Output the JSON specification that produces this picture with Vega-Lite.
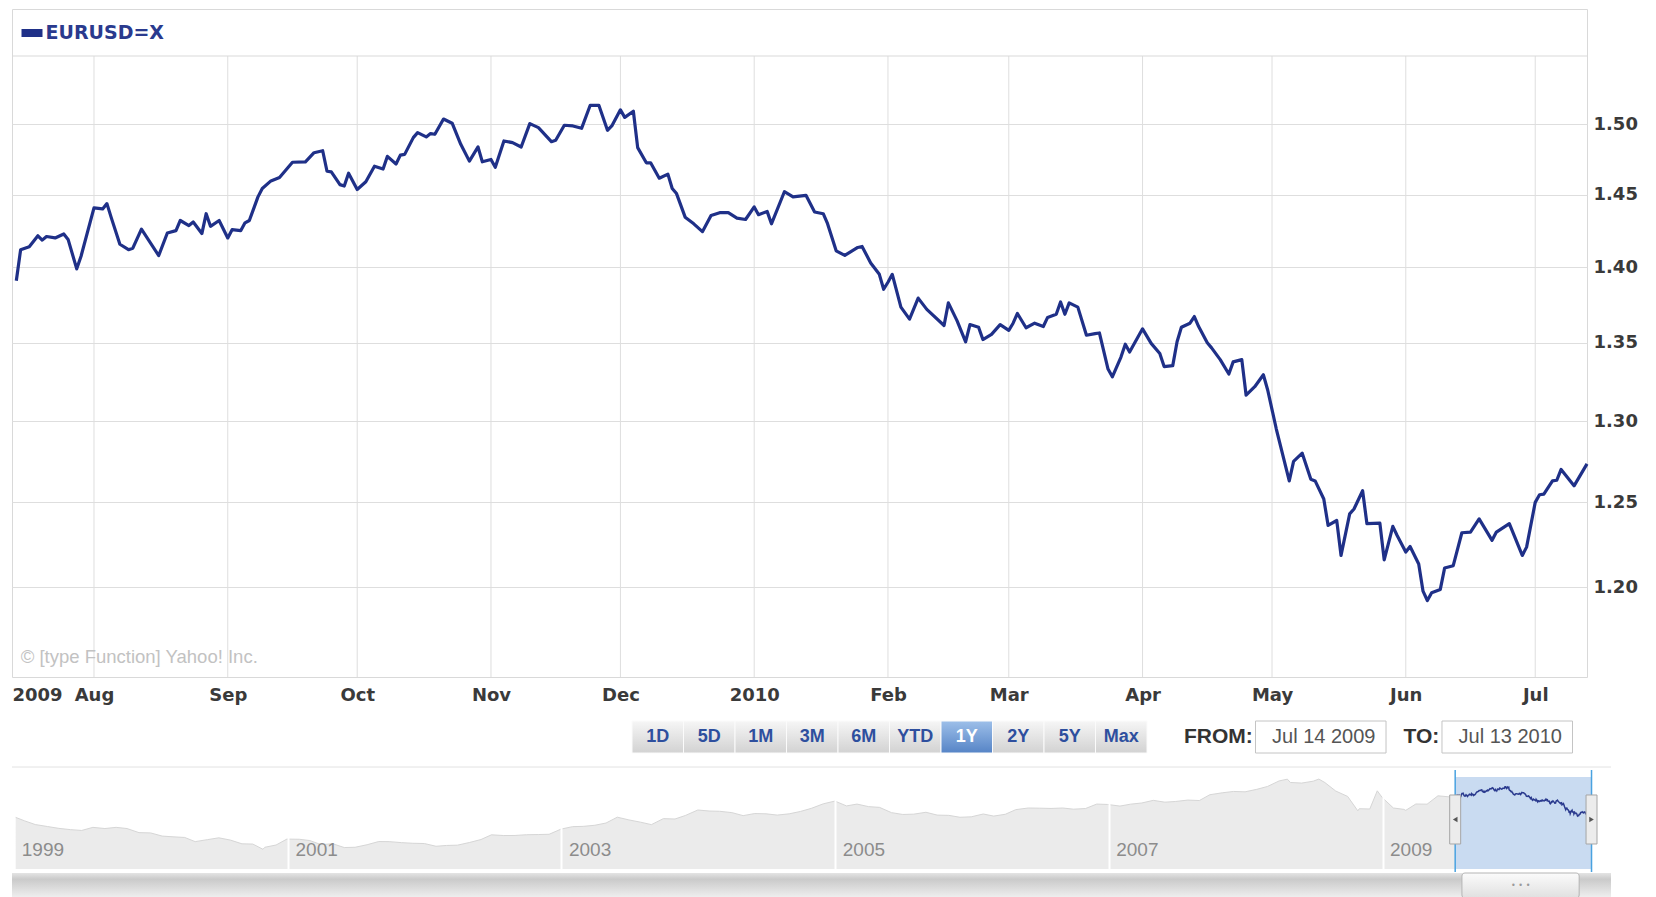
{
  "$schema": "https://vega.github.io/schema/vega-lite/v6.json",
  "padding": {"left": 11, "top": 8, "right": 0, "bottom": 0},
  "background": "white",
  "bounds": "flush",
  "spacing": 44,
  "config": {
    "view": {"stroke": null},
    "font": "DejaVu Sans",
    "axis": {"domain": false, "ticks": false, "title": null}
  },
  "datasets": {
    "main": [
      {"date": "2009-07-14", "v": 1.391}, {"date": "2009-07-15", "v": 1.412}, {"date": "2009-07-17", "v": 1.414}, {"date": "2009-07-19", "v": 1.4215},
      {"date": "2009-07-20", "v": 1.4185}, {"date": "2009-07-21", "v": 1.421}, {"date": "2009-07-23", "v": 1.42}, {"date": "2009-07-25", "v": 1.4227},
      {"date": "2009-07-26", "v": 1.419}, {"date": "2009-07-28", "v": 1.399}, {"date": "2009-07-29", "v": 1.4075}, {"date": "2009-08-01", "v": 1.4407},
      {"date": "2009-08-03", "v": 1.44}, {"date": "2009-08-04", "v": 1.4437}, {"date": "2009-08-05", "v": 1.434}, {"date": "2009-08-07", "v": 1.4157},
      {"date": "2009-08-09", "v": 1.412}, {"date": "2009-08-10", "v": 1.413}, {"date": "2009-08-12", "v": 1.426}, {"date": "2009-08-16", "v": 1.408},
      {"date": "2009-08-18", "v": 1.4234}, {"date": "2009-08-20", "v": 1.425}, {"date": "2009-08-21", "v": 1.432}, {"date": "2009-08-23", "v": 1.4285},
      {"date": "2009-08-24", "v": 1.431}, {"date": "2009-08-26", "v": 1.423}, {"date": "2009-08-27", "v": 1.4367}, {"date": "2009-08-28", "v": 1.428},
      {"date": "2009-08-30", "v": 1.432}, {"date": "2009-09-01", "v": 1.42}, {"date": "2009-09-02", "v": 1.4257}, {"date": "2009-09-04", "v": 1.425},
      {"date": "2009-09-05", "v": 1.4304}, {"date": "2009-09-06", "v": 1.432}, {"date": "2009-09-08", "v": 1.4484}, {"date": "2009-09-09", "v": 1.4543},
      {"date": "2009-09-11", "v": 1.4596}, {"date": "2009-09-13", "v": 1.462}, {"date": "2009-09-16", "v": 1.4728}, {"date": "2009-09-19", "v": 1.473},
      {"date": "2009-09-21", "v": 1.4796}, {"date": "2009-09-23", "v": 1.481}, {"date": "2009-09-24", "v": 1.4664}, {"date": "2009-09-25", "v": 1.466},
      {"date": "2009-09-27", "v": 1.457}, {"date": "2009-09-28", "v": 1.456}, {"date": "2009-09-29", "v": 1.465}, {"date": "2009-10-01", "v": 1.4536},
      {"date": "2009-10-03", "v": 1.459}, {"date": "2009-10-05", "v": 1.47}, {"date": "2009-10-07", "v": 1.468}, {"date": "2009-10-08", "v": 1.477},
      {"date": "2009-10-10", "v": 1.4716}, {"date": "2009-10-11", "v": 1.4779}, {"date": "2009-10-12", "v": 1.4784}, {"date": "2009-10-14", "v": 1.4904},
      {"date": "2009-10-15", "v": 1.494}, {"date": "2009-10-17", "v": 1.4909}, {"date": "2009-10-18", "v": 1.4933}, {"date": "2009-10-19", "v": 1.4928},
      {"date": "2009-10-21", "v": 1.5038}, {"date": "2009-10-23", "v": 1.5008}, {"date": "2009-10-25", "v": 1.4856}, {"date": "2009-10-27", "v": 1.4736},
      {"date": "2009-10-29", "v": 1.4837}, {"date": "2009-10-30", "v": 1.4731}, {"date": "2009-11-01", "v": 1.4748}, {"date": "2009-11-02", "v": 1.4692},
      {"date": "2009-11-04", "v": 1.488}, {"date": "2009-11-06", "v": 1.4868}, {"date": "2009-11-08", "v": 1.4837}, {"date": "2009-11-10", "v": 1.5005},
      {"date": "2009-11-12", "v": 1.4976}, {"date": "2009-11-15", "v": 1.4875}, {"date": "2009-11-16", "v": 1.4885}, {"date": "2009-11-18", "v": 1.4993},
      {"date": "2009-11-20", "v": 1.4988}, {"date": "2009-11-22", "v": 1.4971}, {"date": "2009-11-24", "v": 1.5138}, {"date": "2009-11-26", "v": 1.5138},
      {"date": "2009-11-28", "v": 1.4957}, {"date": "2009-11-29", "v": 1.4988}, {"date": "2009-12-01", "v": 1.5105}, {"date": "2009-12-02", "v": 1.505},
      {"date": "2009-12-04", "v": 1.5095}, {"date": "2009-12-05", "v": 1.4832}, {"date": "2009-12-07", "v": 1.4724}, {"date": "2009-12-08", "v": 1.4724},
      {"date": "2009-12-10", "v": 1.4615}, {"date": "2009-12-12", "v": 1.4644}, {"date": "2009-12-13", "v": 1.4543}, {"date": "2009-12-14", "v": 1.4507},
      {"date": "2009-12-16", "v": 1.4343}, {"date": "2009-12-18", "v": 1.4297}, {"date": "2009-12-20", "v": 1.4243}, {"date": "2009-12-22", "v": 1.4355},
      {"date": "2009-12-24", "v": 1.4374}, {"date": "2009-12-26", "v": 1.4374}, {"date": "2009-12-28", "v": 1.4336}, {"date": "2009-12-30", "v": 1.4327},
      {"date": "2010-01-01", "v": 1.4414}, {"date": "2010-01-02", "v": 1.436}, {"date": "2010-01-04", "v": 1.4383}, {"date": "2010-01-05", "v": 1.4297},
      {"date": "2010-01-08", "v": 1.452}, {"date": "2010-01-10", "v": 1.4484}, {"date": "2010-01-13", "v": 1.4495}, {"date": "2010-01-15", "v": 1.4379},
      {"date": "2010-01-17", "v": 1.4367}, {"date": "2010-01-18", "v": 1.4298}, {"date": "2010-01-20", "v": 1.4112}, {"date": "2010-01-22", "v": 1.4081},
      {"date": "2010-01-25", "v": 1.4135}, {"date": "2010-01-26", "v": 1.4142}, {"date": "2010-01-28", "v": 1.403}, {"date": "2010-01-30", "v": 1.3953},
      {"date": "2010-01-31", "v": 1.3853}, {"date": "2010-02-01", "v": 1.39}, {"date": "2010-02-02", "v": 1.3953}, {"date": "2010-02-04", "v": 1.3734},
      {"date": "2010-02-06", "v": 1.3655}, {"date": "2010-02-08", "v": 1.3794}, {"date": "2010-02-10", "v": 1.3719}, {"date": "2010-02-14", "v": 1.3613},
      {"date": "2010-02-15", "v": 1.3762}, {"date": "2010-02-17", "v": 1.3645}, {"date": "2010-02-19", "v": 1.3506}, {"date": "2010-02-20", "v": 1.3619},
      {"date": "2010-02-22", "v": 1.3602}, {"date": "2010-02-23", "v": 1.3521}, {"date": "2010-02-25", "v": 1.3555}, {"date": "2010-02-27", "v": 1.3619},
      {"date": "2010-03-01", "v": 1.3581}, {"date": "2010-03-02", "v": 1.3628}, {"date": "2010-03-03", "v": 1.3692}, {"date": "2010-03-05", "v": 1.3598},
      {"date": "2010-03-07", "v": 1.3628}, {"date": "2010-03-09", "v": 1.3606}, {"date": "2010-03-10", "v": 1.3666}, {"date": "2010-03-12", "v": 1.3687},
      {"date": "2010-03-13", "v": 1.3768}, {"date": "2010-03-14", "v": 1.3687}, {"date": "2010-03-15", "v": 1.3762}, {"date": "2010-03-17", "v": 1.3734},
      {"date": "2010-03-19", "v": 1.3549}, {"date": "2010-03-21", "v": 1.356}, {"date": "2010-03-22", "v": 1.3564}, {"date": "2010-03-24", "v": 1.333},
      {"date": "2010-03-25", "v": 1.328}, {"date": "2010-03-27", "v": 1.3407}, {"date": "2010-03-28", "v": 1.3491}, {"date": "2010-03-29", "v": 1.344},
      {"date": "2010-04-01", "v": 1.3591}, {"date": "2010-04-03", "v": 1.3496}, {"date": "2010-04-05", "v": 1.343}, {"date": "2010-04-06", "v": 1.3346},
      {"date": "2010-04-08", "v": 1.3352}, {"date": "2010-04-09", "v": 1.3507}, {"date": "2010-04-10", "v": 1.3601}, {"date": "2010-04-12", "v": 1.3628},
      {"date": "2010-04-13", "v": 1.3672}, {"date": "2010-04-14", "v": 1.3606}, {"date": "2010-04-16", "v": 1.35}, {"date": "2010-04-17", "v": 1.3467},
      {"date": "2010-04-19", "v": 1.3391}, {"date": "2010-04-21", "v": 1.3298}, {"date": "2010-04-22", "v": 1.3376}, {"date": "2010-04-24", "v": 1.3391},
      {"date": "2010-04-25", "v": 1.3163}, {"date": "2010-04-27", "v": 1.3217}, {"date": "2010-04-29", "v": 1.3293}, {"date": "2010-04-30", "v": 1.3196},
      {"date": "2010-05-02", "v": 1.295}, {"date": "2010-05-05", "v": 1.263}, {"date": "2010-05-06", "v": 1.275}, {"date": "2010-05-08", "v": 1.28},
      {"date": "2010-05-10", "v": 1.264}, {"date": "2010-05-11", "v": 1.263}, {"date": "2010-05-13", "v": 1.252}, {"date": "2010-05-14", "v": 1.2362},
      {"date": "2010-05-16", "v": 1.2391}, {"date": "2010-05-17", "v": 1.2184}, {"date": "2010-05-19", "v": 1.2431}, {"date": "2010-05-20", "v": 1.246},
      {"date": "2010-05-22", "v": 1.257}, {"date": "2010-05-23", "v": 1.2372}, {"date": "2010-05-26", "v": 1.2375}, {"date": "2010-05-27", "v": 1.2158},
      {"date": "2010-05-29", "v": 1.2356}, {"date": "2010-05-30", "v": 1.2302}, {"date": "2010-06-01", "v": 1.2204}, {"date": "2010-06-02", "v": 1.2237},
      {"date": "2010-06-04", "v": 1.2134}, {"date": "2010-06-05", "v": 1.1976}, {"date": "2010-06-06", "v": 1.1922}, {"date": "2010-06-07", "v": 1.1967},
      {"date": "2010-06-09", "v": 1.1986}, {"date": "2010-06-10", "v": 1.211}, {"date": "2010-06-12", "v": 1.2124}, {"date": "2010-06-14", "v": 1.2318},
      {"date": "2010-06-16", "v": 1.2322}, {"date": "2010-06-18", "v": 1.2401}, {"date": "2010-06-21", "v": 1.2273}, {"date": "2010-06-22", "v": 1.2322},
      {"date": "2010-06-25", "v": 1.2372}, {"date": "2010-06-28", "v": 1.2184}, {"date": "2010-06-29", "v": 1.2233}, {"date": "2010-07-01", "v": 1.25},
      {"date": "2010-07-02", "v": 1.2546}, {"date": "2010-07-03", "v": 1.255}, {"date": "2010-07-05", "v": 1.263}, {"date": "2010-07-06", "v": 1.2634},
      {"date": "2010-07-07", "v": 1.27}, {"date": "2010-07-10", "v": 1.26}, {"date": "2010-07-13", "v": 1.2734}
    ],
    "months": [
      {"date": "2009-08-01"}, {"date": "2009-09-01"}, {"date": "2009-10-01"}, {"date": "2009-11-01"}, {"date": "2009-12-01"}, {"date": "2010-01-01"},
      {"date": "2010-02-01"}, {"date": "2010-03-01"}, {"date": "2010-04-01"}, {"date": "2010-05-01"}, {"date": "2010-06-01"}, {"date": "2010-07-01"}
    ],
    "hist": [
      {"date": "1999-01-04", "v": 1.179}, {"date": "1999-01-29", "v": 1.139}, {"date": "1999-02-26", "v": 1.099}, {"date": "1999-03-31", "v": 1.077},
      {"date": "1999-04-30", "v": 1.057}, {"date": "1999-05-31", "v": 1.043}, {"date": "1999-06-30", "v": 1.034}, {"date": "1999-07-30", "v": 1.068},
      {"date": "1999-08-31", "v": 1.055}, {"date": "1999-09-30", "v": 1.068}, {"date": "1999-10-29", "v": 1.055}, {"date": "1999-11-30", "v": 1.01},
      {"date": "1999-12-31", "v": 1.007}, {"date": "2000-01-31", "v": 0.972}, {"date": "2000-02-29", "v": 0.964}, {"date": "2000-03-31", "v": 0.957},
      {"date": "2000-04-28", "v": 0.911}, {"date": "2000-05-31", "v": 0.933}, {"date": "2000-06-30", "v": 0.953}, {"date": "2000-07-31", "v": 0.928},
      {"date": "2000-08-31", "v": 0.887}, {"date": "2000-09-29", "v": 0.884}, {"date": "2000-10-26", "v": 0.827}, {"date": "2000-10-31", "v": 0.849},
      {"date": "2000-11-30", "v": 0.874}, {"date": "2000-12-29", "v": 0.939}, {"date": "2001-01-31", "v": 0.937}, {"date": "2001-02-28", "v": 0.923},
      {"date": "2001-03-30", "v": 0.878}, {"date": "2001-04-30", "v": 0.888}, {"date": "2001-05-31", "v": 0.846}, {"date": "2001-06-29", "v": 0.849},
      {"date": "2001-07-31", "v": 0.877}, {"date": "2001-08-31", "v": 0.912}, {"date": "2001-09-28", "v": 0.911}, {"date": "2001-10-31", "v": 0.9},
      {"date": "2001-11-30", "v": 0.893}, {"date": "2001-12-31", "v": 0.89}, {"date": "2002-01-31", "v": 0.86}, {"date": "2002-02-28", "v": 0.869},
      {"date": "2002-03-29", "v": 0.872}, {"date": "2002-04-30", "v": 0.901}, {"date": "2002-05-31", "v": 0.934}, {"date": "2002-06-28", "v": 0.986},
      {"date": "2002-07-31", "v": 0.978}, {"date": "2002-08-30", "v": 0.979}, {"date": "2002-09-30", "v": 0.987}, {"date": "2002-10-31", "v": 0.989},
      {"date": "2002-11-29", "v": 0.992}, {"date": "2002-12-31", "v": 1.049}, {"date": "2003-01-31", "v": 1.076}, {"date": "2003-02-28", "v": 1.079},
      {"date": "2003-03-31", "v": 1.091}, {"date": "2003-04-30", "v": 1.116}, {"date": "2003-05-30", "v": 1.18}, {"date": "2003-06-30", "v": 1.15},
      {"date": "2003-07-31", "v": 1.125}, {"date": "2003-08-29", "v": 1.098}, {"date": "2003-09-30", "v": 1.164}, {"date": "2003-10-31", "v": 1.16},
      {"date": "2003-11-28", "v": 1.199}, {"date": "2003-12-31", "v": 1.259}, {"date": "2004-01-30", "v": 1.248}, {"date": "2004-02-27", "v": 1.245},
      {"date": "2004-03-31", "v": 1.23}, {"date": "2004-04-30", "v": 1.197}, {"date": "2004-05-31", "v": 1.22}, {"date": "2004-06-30", "v": 1.217},
      {"date": "2004-07-30", "v": 1.203}, {"date": "2004-08-31", "v": 1.217}, {"date": "2004-09-30", "v": 1.243}, {"date": "2004-10-29", "v": 1.277},
      {"date": "2004-11-30", "v": 1.327}, {"date": "2004-12-31", "v": 1.357}, {"date": "2005-01-31", "v": 1.304}, {"date": "2005-02-28", "v": 1.324},
      {"date": "2005-03-31", "v": 1.296}, {"date": "2005-04-29", "v": 1.288}, {"date": "2005-05-31", "v": 1.23}, {"date": "2005-06-30", "v": 1.21},
      {"date": "2005-07-29", "v": 1.213}, {"date": "2005-08-31", "v": 1.234}, {"date": "2005-09-30", "v": 1.203}, {"date": "2005-10-31", "v": 1.2},
      {"date": "2005-11-30", "v": 1.179}, {"date": "2005-12-30", "v": 1.184}, {"date": "2006-01-31", "v": 1.215}, {"date": "2006-02-28", "v": 1.192},
      {"date": "2006-03-31", "v": 1.212}, {"date": "2006-04-28", "v": 1.263}, {"date": "2006-05-31", "v": 1.281}, {"date": "2006-06-30", "v": 1.279},
      {"date": "2006-07-31", "v": 1.276}, {"date": "2006-08-31", "v": 1.281}, {"date": "2006-09-29", "v": 1.268}, {"date": "2006-10-31", "v": 1.275},
      {"date": "2006-11-30", "v": 1.324}, {"date": "2006-12-29", "v": 1.32}, {"date": "2007-01-31", "v": 1.302}, {"date": "2007-02-28", "v": 1.323},
      {"date": "2007-03-30", "v": 1.336}, {"date": "2007-04-30", "v": 1.365}, {"date": "2007-05-31", "v": 1.345}, {"date": "2007-06-29", "v": 1.353},
      {"date": "2007-07-31", "v": 1.368}, {"date": "2007-08-31", "v": 1.363}, {"date": "2007-09-28", "v": 1.427}, {"date": "2007-10-31", "v": 1.448},
      {"date": "2007-11-30", "v": 1.463}, {"date": "2007-12-31", "v": 1.459}, {"date": "2008-01-31", "v": 1.486}, {"date": "2008-02-29", "v": 1.518},
      {"date": "2008-03-31", "v": 1.579}, {"date": "2008-04-22", "v": 1.598}, {"date": "2008-04-30", "v": 1.562}, {"date": "2008-05-30", "v": 1.555},
      {"date": "2008-06-30", "v": 1.576}, {"date": "2008-07-15", "v": 1.599}, {"date": "2008-07-31", "v": 1.561}, {"date": "2008-08-29", "v": 1.468},
      {"date": "2008-09-30", "v": 1.408}, {"date": "2008-10-27", "v": 1.25}, {"date": "2008-10-31", "v": 1.273}, {"date": "2008-11-28", "v": 1.27},
      {"date": "2008-12-18", "v": 1.47}, {"date": "2008-12-31", "v": 1.397}, {"date": "2009-01-30", "v": 1.281}, {"date": "2009-02-27", "v": 1.266},
      {"date": "2009-03-04", "v": 1.255}, {"date": "2009-03-31", "v": 1.325}, {"date": "2009-04-30", "v": 1.323}, {"date": "2009-05-29", "v": 1.415},
      {"date": "2009-06-30", "v": 1.403}, {"date": "2009-07-14", "v": 1.391}
    ],
    "btns": [
      {"b": "1D"}, {"b": "5D"}, {"b": "1M"}, {"b": "3M"}, {"b": "6M"}, {"b": "YTD"}, {"b": "1Y"}, {"b": "2Y"}, {"b": "5Y"}, {"b": "Max"}
    ],
    "boxes": [
      {"k": "from", "t": "Jul 14 2009", "lab": "FROM:"},
      {"k": "to", "t": "Jul 13 2010", "lab": "TO:"}
    ],
    "edges": [
      {"date": "2009-07-14", "a": "l"},
      {"date": "2010-07-13", "a": "r"}
    ]
  },
  "vconcat": [
    {
      "width": 1575,
      "height": 668,
      "view": {"stroke": "#d9d9d9"},
      "layer": [
        {
          "data": {"name": "months"},
          "mark": {"type": "rule", "color": "#dedede", "strokeWidth": 1},
          "encoding": {
            "x": {"field": "date", "type": "temporal",
              "scale": {"type": "utc", "nice": false, "domain": [{"year": 2009, "month": 7, "date": 13, "utc": true}, {"year": 2010, "month": 7, "date": 13, "utc": true}]}},
            "y": {"datum": 1.14903, "type": "quantitative", "scale": {"type": "log", "nice": false, "domain": [1.14903, 1.58577]}},
            "y2": {"datum": 1.55023}
          }
        },
        {
          "data": {"values": [{}]},
          "mark": {"type": "rule", "color": "#d9d9d9", "strokeWidth": 1},
          "encoding": {"y": {"datum": 1.55023, "type": "quantitative"}}
        },
        {
          "data": {"values": [{}]},
          "mark": {"type": "text", "text": "© [type Function] Yahoo! Inc.", "font": "Liberation Sans", "fontSize": 18.5, "color": "#c2c2c2", "align": "left", "baseline": "middle"},
          "encoding": {
            "x": {"datum": {"year": 2009, "month": 7, "date": 15, "utc": true}, "type": "temporal"},
            "y": {"datum": 1.16017, "type": "quantitative"}
          }
        },
        {
          "data": {"name": "main"},
          "mark": {"type": "line", "strokeWidth": 3.2, "strokeJoin": "round"},
          "encoding": {
            "x": {"field": "date", "type": "temporal",
              "scale": {"type": "utc", "nice": false, "domain": [{"year": 2009, "month": 7, "date": 13, "utc": true}, {"year": 2010, "month": 7, "date": 13, "utc": true}]},
              "axis": {
                "grid": false,
                "values": [
                  {"year": 2009, "month": 7, "date": 13, "utc": true}, {"year": 2009, "month": 8, "date": 1, "utc": true}, {"year": 2009, "month": 9, "date": 1, "utc": true},
                  {"year": 2009, "month": 10, "date": 1, "utc": true}, {"year": 2009, "month": 11, "date": 1, "utc": true}, {"year": 2009, "month": 12, "date": 1, "utc": true},
                  {"year": 2010, "month": 1, "date": 1, "utc": true}, {"year": 2010, "month": 2, "date": 1, "utc": true}, {"year": 2010, "month": 3, "date": 1, "utc": true},
                  {"year": 2010, "month": 4, "date": 1, "utc": true}, {"year": 2010, "month": 5, "date": 1, "utc": true}, {"year": 2010, "month": 6, "date": 1, "utc": true},
                  {"year": 2010, "month": 7, "date": 1, "utc": true}
                ],
                "labelExpr": "utcyear(datum.value) == 2009 && utcmonth(datum.value) == 6 ? '2009' : utcmonth(datum.value) == 0 ? utcFormat(datum.value, '%Y') : utcFormat(datum.value, '%b')",
                "labelFont": "DejaVu Sans", "labelFontWeight": "bold", "labelFontSize": 18, "labelColor": "#3a3a3a",
                "labelPadding": 9, "labelFlush": 10, "labelOverlap": false
              }
            },
            "y": {"field": "v", "type": "quantitative",
              "scale": {"type": "log", "nice": false, "domain": [1.14903, 1.58577]},
              "axis": {
                "orient": "right", "values": [1.2, 1.25, 1.3, 1.35, 1.4, 1.45, 1.5], "format": ".2f",
                "grid": true, "gridColor": "#dedede",
                "labelFont": "DejaVu Sans", "labelFontWeight": "bold", "labelFontSize": 18, "labelColor": "#3a3a3a", "labelPadding": 6
              }
            },
            "color": {"datum": "EURUSD=X", "type": "nominal", "scale": {"range": ["#1f3088"]},
              "legend": {
                "orient": "none", "legendX": 9.5, "legendY": 13.5, "title": null, "padding": 0,
                "symbolType": "M-1,-0.38H1V0.38H-1Z", "symbolSize": 441,
                "labelFont": "DejaVu Sans", "labelFontWeight": "bold", "labelFontSize": 19, "labelColor": "#2a3a8e", "labelOffset": 3,
                "encode": {"symbols": {"update": {"fill": {"value": "#1f3088"}, "stroke": {"value": "#1f3088"}, "strokeWidth": {"value": 0}}}}
              }
            }
          }
        }
      ]
    },
    {
      "bounds": "flush",
      "spacing": 24,
      "vconcat": [
        {
          "width": 1575,
          "height": 32,
          "layer": [
            {
              "data": {"name": "btns"},
              "transform": [{"filter": "datum.b != '1Y'"}],
              "mark": {"type": "rect", "stroke": "#fbfbfb", "strokeWidth": 1,
                "fill": {"gradient": "linear", "x1": 0, "y1": 0, "x2": 0, "y2": 1, "stops": [{"offset": 0, "color": "#f6f6f6"}, {"offset": 1, "color": "#d2d2d2"}]}},
              "encoding": {"x": {"field": "b", "type": "nominal", "axis": null,
                "scale": {"type": "band", "domain": ["1D", "5D", "1M", "3M", "6M", "YTD", "1Y", "2Y", "5Y", "Max"], "range": [620, 1135], "paddingInner": 0, "paddingOuter": 0}}}
            },
            {
              "data": {"name": "btns"},
              "transform": [{"filter": "datum.b == '1Y'"}],
              "mark": {"type": "rect", "stroke": "#fbfbfb", "strokeWidth": 1,
                "fill": {"gradient": "linear", "x1": 0, "y1": 0, "x2": 0, "y2": 1, "stops": [{"offset": 0, "color": "#9dbfe9"}, {"offset": 1, "color": "#5684c6"}]}},
              "encoding": {"x": {"field": "b", "type": "nominal", "axis": null,
                "scale": {"type": "band", "domain": ["1D", "5D", "1M", "3M", "6M", "YTD", "1Y", "2Y", "5Y", "Max"], "range": [620, 1135], "paddingInner": 0, "paddingOuter": 0}}}
            },
            {
              "data": {"name": "btns"},
              "mark": {"type": "text", "font": "Liberation Sans", "fontWeight": "bold", "fontSize": 18, "baseline": "middle"},
              "encoding": {
                "x": {"field": "b", "type": "nominal", "axis": null,
                  "scale": {"type": "band", "domain": ["1D", "5D", "1M", "3M", "6M", "YTD", "1Y", "2Y", "5Y", "Max"], "range": [620, 1135], "paddingInner": 0, "paddingOuter": 0}},
                "text": {"field": "b"},
                "color": {"condition": {"test": "datum.b == '1Y'", "value": "#ffffff"}, "value": "#2e4f9e"}
              }
            },
            {
              "data": {"name": "boxes"},
              "mark": {"type": "rect", "fill": "#ffffff", "stroke": "#c4c4c4", "strokeWidth": 1},
              "encoding": {"x": {"field": "k", "type": "nominal", "axis": null,
                "scale": {"type": "band", "domain": ["from", "to"], "range": [1243.5, 1560.5], "paddingInner": 0.3, "paddingOuter": 0}}}
            },
            {
              "data": {"name": "boxes"},
              "mark": {"type": "text", "font": "Liberation Sans", "fontSize": 20, "color": "#555555", "baseline": "middle", "dx": 3},
              "encoding": {
                "x": {"field": "k", "type": "nominal", "axis": null,
                  "scale": {"type": "band", "domain": ["from", "to"], "range": [1243.5, 1560.5], "paddingInner": 0.3, "paddingOuter": 0}},
                "text": {"field": "t"}
              }
            },
            {
              "data": {"name": "boxes"},
              "mark": {"type": "text", "font": "Liberation Sans", "fontWeight": "bold", "fontSize": 21, "color": "#333333", "baseline": "middle", "align": "right", "dx": -68},
              "encoding": {
                "x": {"field": "k", "type": "nominal", "axis": null,
                  "scale": {"type": "band", "domain": ["from", "to"], "range": [1243.5, 1560.5], "paddingInner": 0.3, "paddingOuter": 0}},
                "text": {"field": "lab"}
              }
            }
          ],
          "resolve": {"scale": {"x": "independent"}}
        },
        {
          "bounds": "flush",
          "spacing": 4,
          "vconcat": [
            {
              "width": 1599,
              "height": 92,
              "layer": [
                {
                  "data": {"name": "hist"},
                  "mark": {"type": "area", "color": "#e3e3e3", "line": {"color": "#d6d6d6", "strokeWidth": 1}},
                  "encoding": {
                    "x": {"field": "date", "type": "temporal",
                      "scale": {"type": "utc", "nice": false, "domain": [{"year": 1998, "month": 12, "date": 26, "utc": true}, {"year": 2010, "month": 9, "date": 3, "utc": true}]},
                      "axis": {
                        "grid": true, "gridColor": "#ffffff", "gridWidth": 2, "zindex": 1,
                        "values": [{"year": 1999, "month": 1, "date": 1, "utc": true}, {"year": 2001, "month": 1, "date": 1, "utc": true}, {"year": 2003, "month": 1, "date": 1, "utc": true},
                          {"year": 2005, "month": 1, "date": 1, "utc": true}, {"year": 2007, "month": 1, "date": 1, "utc": true}, {"year": 2009, "month": 1, "date": 1, "utc": true}],
                        "labelExpr": "utcFormat(datum.value, '%Y')",
                        "labelAlign": "left", "labelOffset": 7, "labelPadding": -20, "labelBaseline": "middle",
                        "labelFont": "Liberation Sans", "labelFontSize": 19, "labelColor": "#8c8c8c", "labelFlush": false, "labelOverlap": false
                      }
                    },
                    "y": {"field": "v", "type": "quantitative", "axis": null, "scale": {"nice": false, "zero": false, "domain": [0.61, 1.622]}},
                    "y2": {"datum": 0.61}
                  }
                },
                {
                  "data": {"values": [{}]},
                  "mark": {"type": "rect", "color": "#c9dbf1"},
                  "encoding": {
                    "x": {"datum": {"year": 2009, "month": 7, "date": 14, "utc": true}, "type": "temporal"},
                    "x2": {"datum": {"year": 2010, "month": 7, "date": 13, "utc": true}}
                  }
                },
                {
                  "data": {"name": "main"},
                  "mark": {"type": "line", "color": "#2a3a8e", "strokeWidth": 1.5},
                  "encoding": {
                    "x": {"field": "date", "type": "temporal"},
                    "y": {"field": "v", "type": "quantitative"}
                  }
                },
                {
                  "data": {"values": [{}]},
                  "mark": {"type": "rule", "color": "#e2e2e2", "strokeWidth": 1},
                  "encoding": {"y": {"datum": 1.732, "type": "quantitative"}}
                },
                {
                  "data": {"name": "edges"},
                  "mark": {"type": "rule", "color": "#49a2e0", "strokeWidth": 1.5},
                  "encoding": {
                    "x": {"field": "date", "type": "temporal"},
                    "y": {"datum": 1.699, "type": "quantitative"},
                    "y2": {"datum": 0.577}
                  }
                },
                {
                  "data": {"name": "edges"},
                  "mark": {"type": "point", "shape": "M-0.224,-1H0.224V1H-0.224Z", "size": 2401, "filled": true, "fill": "#ececec", "stroke": "#a6a6a6", "strokeWidth": 1, "opacity": 1},
                  "encoding": {
                    "x": {"field": "date", "type": "temporal"},
                    "y": {"datum": 1.1546, "type": "quantitative"}
                  }
                },
                {
                  "data": {"name": "edges"},
                  "mark": {"type": "point", "filled": true, "size": 28, "color": "#555555", "opacity": 1},
                  "encoding": {
                    "x": {"field": "date", "type": "temporal"},
                    "y": {"datum": 1.1546, "type": "quantitative"},
                    "shape": {"field": "a", "type": "nominal", "legend": null, "scale": {"domain": ["l", "r"], "range": ["triangle-left", "triangle-right"]}}
                  }
                }
              ]
            },
            {
              "width": 1599,
              "height": 25,
              "layer": [
                {
                  "data": {"values": [{}]},
                  "mark": {"type": "rect",
                    "fill": {"gradient": "linear", "x1": 0, "y1": 0, "x2": 0, "y2": 1, "stops": [{"offset": 0, "color": "#e4e4e4"}, {"offset": 0.25, "color": "#cacaca"}, {"offset": 1, "color": "#f0f0f0"}]}},
                  "encoding": {}
                },
                {
                  "data": {"values": [{}]},
                  "mark": {"type": "rect", "cornerRadius": 3, "stroke": "#b4b4b4", "strokeWidth": 1,
                    "fill": {"gradient": "linear", "x1": 0, "y1": 0, "x2": 0, "y2": 1, "stops": [{"offset": 0, "color": "#fbfbfb"}, {"offset": 1, "color": "#e0e0e0"}]}},
                  "encoding": {
                    "x": {"datum": {"year": 2009, "month": 8, "date": 1, "utc": true}, "type": "temporal", "axis": null,
                      "scale": {"type": "utc", "nice": false, "domain": [{"year": 1998, "month": 12, "date": 26, "utc": true}, {"year": 2010, "month": 9, "date": 3, "utc": true}]}},
                    "x2": {"datum": {"year": 2010, "month": 6, "date": 10, "utc": true}}
                  }
                },
                {
                  "data": {"values": [{}]},
                  "mark": {"type": "text", "text": "• • •", "fontSize": 8, "color": "#9a9a9a", "baseline": "middle"},
                  "encoding": {
                    "x": {"datum": {"year": 2010, "month": 1, "date": 5, "utc": true}, "type": "temporal"}
                  }
                }
              ]
            }
          ]
        }
      ]
    }
  ]
}
